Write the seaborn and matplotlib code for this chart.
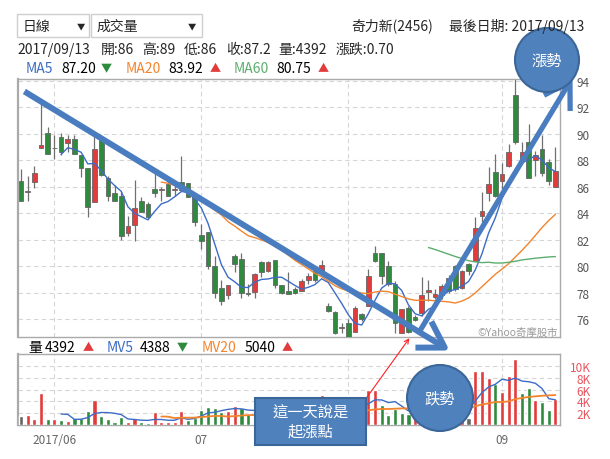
import matplotlib
matplotlib.use("Agg")
import matplotlib.pyplot as plt
from matplotlib.patches import Circle, Rectangle, FancyArrowPatch
import seaborn as sns
import pandas as pd

# daily candles (2017/05 end .. 2017/09/13)
opens = [86.4, 85.6, 86.35, 88.9, 90.08, 88.95, 89.77, 89.3, 89.6, 88.43,
         87.42, 84.84, 89.65, 86.66, 85.54, 85.29, 82.5, 83.14, 84.96, 84.7,
         85.85, 85.72, 86.23, 85.72, 86.35, 86.28, 85.29, 82.38, 82.6, 80.03,
         78.33, 77.8, 80.78, 80.53, 77.95, 78.05, 80.33, 79.65, 80.46, 78.56,
         78.13, 78.25, 78.13, 78.94, 79.65, 79.57, 77.0, 76.53, 75.3, 75.7,
         75.0, 76.35, 76.99, 80.96, 81.0, 80.03, 78.63, 74.98, 76.86, 76.15,
         76.43, 78.03, 77.65, 77.78, 79.1, 80.0, 78.33, 80.17, 80.42, 83.82,
         85.54, 87.15, 86.47, 87.55, 92.94, 87.98, 89.37, 88.03, 88.86, 87.85,
         86.0]
highs = [87.37, 86.8, 87.57, 92.25, 90.5, 89.9, 90.08, 89.9, 89.9, 88.43,
         87.42, 89.9, 89.65, 86.8, 86.1, 85.6, 83.8, 86.5, 85.2, 84.84,
         87.1, 85.97, 86.4, 86.35, 88.3, 86.28, 85.29, 83.2, 82.6, 80.8,
         78.96, 78.56, 80.9, 80.96, 78.63, 79.47, 80.4, 80.4, 80.46, 78.56,
         79.57, 78.4, 79.0, 79.5, 79.65, 80.5, 77.24, 76.6, 75.7, 76.0,
         77.0, 76.43, 79.77, 81.54, 81.0, 80.4, 78.9, 76.73, 77.0, 76.3,
         79.2, 78.96, 78.3, 78.66, 79.3, 80.05, 79.67, 80.25, 83.7, 85.6,
         87.5, 88.48, 87.8, 89.24, 94.2, 89.37, 90.75, 88.73, 89.92, 88.1,
         89.0]
lows = [84.9, 84.9, 85.9, 88.9, 88.5, 88.07, 88.38, 88.63, 88.5, 86.73,
        83.7, 84.84, 86.8, 84.96, 84.96, 82.0, 82.3, 81.87, 84.08, 83.57,
        85.2, 84.96, 85.29, 85.29, 85.72, 85.2, 83.0, 81.3, 79.77, 77.6,
        77.04, 77.5, 79.57, 77.6, 77.75, 77.6, 79.14, 79.57, 78.38, 77.87,
        77.87, 77.9, 78.13, 78.63, 78.8, 79.57, 76.53, 74.9, 74.96, 74.6,
        75.0, 75.84, 76.99, 80.28, 78.63, 78.5, 74.96, 74.98, 74.96, 75.84,
        76.22, 77.4, 77.53, 77.53, 78.0, 78.15, 78.28, 79.3, 80.42, 83.3,
        84.96, 85.2, 85.84, 87.48, 89.24, 87.98, 86.65, 86.85, 86.85, 86.1,
        86.0]
closes = [84.96, 85.65, 87.06, 89.14, 88.5, 88.9, 88.63, 89.6, 88.5, 87.42,
          84.5, 88.84, 86.9, 85.29, 84.96, 82.3, 83.0, 84.4, 84.08, 83.7,
          85.5, 85.85, 85.29, 85.85, 85.72, 85.2, 83.3, 81.9, 80.03, 77.95,
          77.37, 78.56, 80.15, 77.95, 77.9, 79.4, 79.57, 80.33, 78.56, 77.95,
          77.87, 78.0, 78.9, 79.27, 78.96, 80.08, 76.6, 74.96, 75.33, 74.66,
          76.8, 75.97, 79.27, 80.4, 79.27, 78.63, 75.72, 76.73, 75.0, 75.92,
          77.8, 78.23, 77.9, 78.53, 78.15, 78.3, 79.6, 79.6, 82.9, 84.2,
          86.2, 85.33, 86.97, 88.66, 89.37, 88.66, 86.65, 88.4, 87.02, 86.47,
          87.2]
# volume in lots (張)
volumes = [1540, 1770, 1030, 5370, 1030, 1030, 860, 740, 1140, 1140,
           2460, 4290, 1600, 1090, 510, 1370, 570, 1140, 510, 340,
           2170, 510, 510, 510, 2460, 860, 1260, 2570, 3140, 2970,
           2290, 2340, 3260, 2860, 1940, 2000, 1600, 1200, 2200, 1500,
           1000, 1400, 1800, 2300, 1600, 5140, 2400, 3000, 2600, 3500,
           4000, 2000, 5940, 6000, 3370, 1770, 2800, 2110, 1940, 1200,
           3500, 1800, 1200, 2500, 2000, 3200, 4600, 1260, 9260, 9260,
           7940, 6910, 5540, 8290, 11260, 5370, 6340, 4230, 3830, 2630,
           4392]
# 1 = up day, -1 = down day, 0 = flat (volume bar colour)
vol_dir = [0, 1, 1, 1, -1, 1, -1, 1, -1, -1,
           -1, 1, -1, -1, -1, -1, 1, 1, -1, -1,
           1, 1, 1, 1, 1, -1, -1, -1, -1, -1,
           -1, 1, 1, -1, -1, 1, 1, 1, -1, -1,
           -1, 1, 1, 1, -1, 1, -1, -1, 1, -1,
           1, -1, 1, 1, -1, -1, -1, -1, -1, 1,
           1, 1, -1, 1, -1, -1, 1, 0, 1, 1,
           1, -1, 1, 1, 1, -1, -1, 1, -1, -1,
           1]
month_pos = [5, 27, 49, 72]
month_labels = ["2017/06", "07", "", "09"]  # "08" sits under the note box
price_ticks = [76, 78, 80, 82, 84, 86, 88, 90, 92, 94]
vol_ticks = [2000, 4000, 6000, 8000, 10000]
vol_tick_labels = ["2K", "4K", "6K", "8K", "10K"]
ma_windows = [5, 20, 60]
ma_first = [6, 21, 61]

RED = "#e23b3b"
GREEN = "#2e8b3e"
BLUE = "#3d6cc6"
ORANGE = "#f4842c"
MGREEN = "#5cae6e"
SHAPE = "#4f81bd"
SHAPE_EDGE = "#3b6698"

sns.set_style("white")
plt.rcParams["font.family"] = ["Noto Sans CJK TC", "DejaVu Sans"]

df = pd.DataFrame({"open": opens, "high": highs, "low": lows,
                   "close": closes, "volume": volumes, "dir": vol_dir})
df["idx"] = range(len(df))
for w, first in zip(ma_windows, ma_first):
    df[f"ma{w}"] = df["close"].rolling(w).mean()
    df.loc[df["idx"] < first, f"ma{w}"] = None
    df[f"mv{w}"] = df["volume"].rolling(w).mean()
    df.loc[df["idx"] < first, f"mv{w}"] = None

W, H = 610, 460


def frac(l, t, r, b):
    return [l / W, 1 - b / H, (r - l) / W, (b - t) / H]


fig = plt.figure(figsize=(6.1, 4.6), dpi=100)
fig.patch.set_facecolor("white")

# ---- price panel
ax = fig.add_axes(frac(18, 80, 560, 338))
up = df["close"] >= df["open"]
body_col = [RED if u else GREEN for u in up]
body_h = (df["close"] - df["open"]).abs().clip(lower=0.06)
body_b = df[["open", "close"]].min(axis=1)
ax.vlines(df["idx"], df["low"], df["high"], color="#707070", linewidth=0.9, zorder=2)
ax.bar(df["idx"], body_h, bottom=body_b, width=0.7, color=body_col,
       edgecolor="#666666", linewidth=0.6, zorder=3)
for col, c in [("ma5", BLUE), ("ma20", ORANGE), ("ma60", MGREEN)]:
    sns.lineplot(data=df, x="idx", y=col, ax=ax, color=c, linewidth=1.0, zorder=4)

ax.set_xlim(-0.45, 80.69)
ax.set_ylim(74.64, 94.15)
ax.set_yticks(price_ticks)
ax.set_xticks(month_pos)
ax.set_xticklabels([])
ax.yaxis.tick_right()
ax.tick_params(axis="y", length=0, pad=12, labelsize=8.5, labelcolor="#555555")
ax.tick_params(axis="x", length=0)
ax.grid(True, linestyle=(0, (4, 3)), color="#d6d6d6", linewidth=0.8)
ax.set_xlabel("")
ax.set_ylabel("")
for s in ax.spines.values():
    s.set_color("#aaaaaa")
    s.set_linewidth(1.0)
ax.spines["left"].set_linewidth(1.6)

# ---- volume panel
axv = fig.add_axes(frac(18, 355, 560, 426))
vcol = [RED if d > 0 else (GREEN if d < 0 else "#666666") for d in df["dir"]]
axv.bar(df["idx"], df["volume"], width=0.62, color=vcol, zorder=3)
sns.lineplot(data=df, x="idx", y="mv5", ax=axv, color=BLUE, linewidth=1.0, zorder=4)
sns.lineplot(data=df, x="idx", y="mv20", ax=axv, color=ORANGE, linewidth=1.3, zorder=4)
axv.set_xlim(-0.45, 80.69)
axv.set_ylim(0, 12080)
axv.set_yticks(vol_ticks)
axv.set_yticklabels(vol_tick_labels)
axv.yaxis.tick_right()
axv.tick_params(axis="y", length=0, pad=22, labelsize=8.5, labelcolor="#e8555f")
for lab in axv.get_yticklabels():
    lab.set_horizontalalignment("right")
axv.set_xticks(month_pos)
axv.set_xticklabels(month_labels)
axv.tick_params(axis="x", length=0, pad=6, labelsize=8.5, labelcolor="#666666")
axv.grid(True, linestyle=(0, (4, 3)), color="#d6d6d6", linewidth=0.8)
axv.set_xlabel("")
axv.set_ylabel("")
for s in axv.spines.values():
    s.set_color("#aaaaaa")
    s.set_linewidth(1.0)
axv.spines["left"].set_linewidth(1.6)

# ---- overlay in pixel coordinates
ov = fig.add_axes([0, 0, 1, 1])
ov.set_xlim(0, W)
ov.set_ylim(H, 0)
ov.axis("off")

ov.add_patch(Rectangle((17, 15), 72, 23, fc="white", ec="#cfcfcf", lw=1))
ov.add_patch(Rectangle((91, 15), 111, 23, fc="white", ec="#cfcfcf", lw=1))
ov.text(23, 27, "日線", fontsize=10, va="center")
ov.text(81, 27, "▼", fontsize=6, va="center", ha="center")
ov.text(96, 27, "成交量", fontsize=10, va="center")
ov.text(192, 27, "▼", fontsize=6, va="center", ha="center")
ov.text(351, 26, "奇力新(2456)", fontsize=10, va="center")
ov.text(584, 26, "最後日期: 2017/09/13", fontsize=10, va="center", ha="right")

info_parts = [(17, "2017/09/13"), (101, "開:86"), (142, "高:89"), (184, "低:86"),
              (226, "收:87.2"), (278, "量:4392"), (336, "漲跌:0.70")]
for x, s in info_parts:
    ov.text(x, 50, s, fontsize=10, va="center")

ma_parts = [(26, "MA5", BLUE), (61, "87.20", "black"), (101, "▼", GREEN),
            (126, "MA20", ORANGE), (168, "83.92", "black"), (210, "▲", RED),
            (234, "MA60", MGREEN), (276, "80.75", "black"), (318, "▲", RED)]
for x, s, c in ma_parts:
    ov.text(x, 69, s, color=c, fontsize=10 if s not in "▲▼" else 8, va="center")

mv_parts = [(28, "量", "black"), (45, "4392", "black"), (83, "▲", RED),
            (107, "MV5", BLUE), (140, "4388", "black"), (177, "▼", GREEN),
            (202, "MV20", ORANGE), (245, "5040", "black"), (282, "▲", RED)]
for x, s, c in mv_parts:
    ov.text(x, 348, s, color=c, fontsize=10 if s not in "▲▼" else 8, va="center")

ov.text(558, 333, "©Yahoo奇摩股市", fontsize=7.5, color="#9a9a9a", ha="right", va="center")

# trend arrows
ov.add_patch(FancyArrowPatch((22, 91), (452, 353),
                             arrowstyle="->,head_length=0.9,head_width=0.55",
                             mutation_scale=20, color="#4a7cc0", lw=4.3,
                             capstyle="butt"))
ov.add_patch(FancyArrowPatch((418, 335), (574, 76),
                             arrowstyle="->,head_length=0.9,head_width=0.55",
                             mutation_scale=20, color="#4a7cc0", lw=3.8,
                             capstyle="butt"))

# circles and note box
ov.add_patch(Circle((547, 61), 32, fc=SHAPE, ec=SHAPE_EDGE, lw=1.5))
ov.text(547, 61, "漲勢", color="white", fontsize=11, ha="center", va="center")
ov.add_patch(Circle((440, 399), 33, fc=SHAPE, ec=SHAPE_EDGE, lw=1.5))
ov.text(440, 399, "跌勢", color="white", fontsize=11, ha="center", va="center")

ov.add_patch(FancyArrowPatch((365, 401), (411, 337), arrowstyle="->",
                             mutation_scale=8, color="#ff2020", lw=0.8))
ov.add_patch(Rectangle((255, 399), 111, 47, fc=SHAPE, ec=SHAPE_EDGE, lw=1.5))
ov.text(310.5, 423, "這一天說是\n起漲點", color="white", fontsize=11,
        ha="center", va="center", linespacing=1.15)

fig.savefig("out.png", dpi=100)
